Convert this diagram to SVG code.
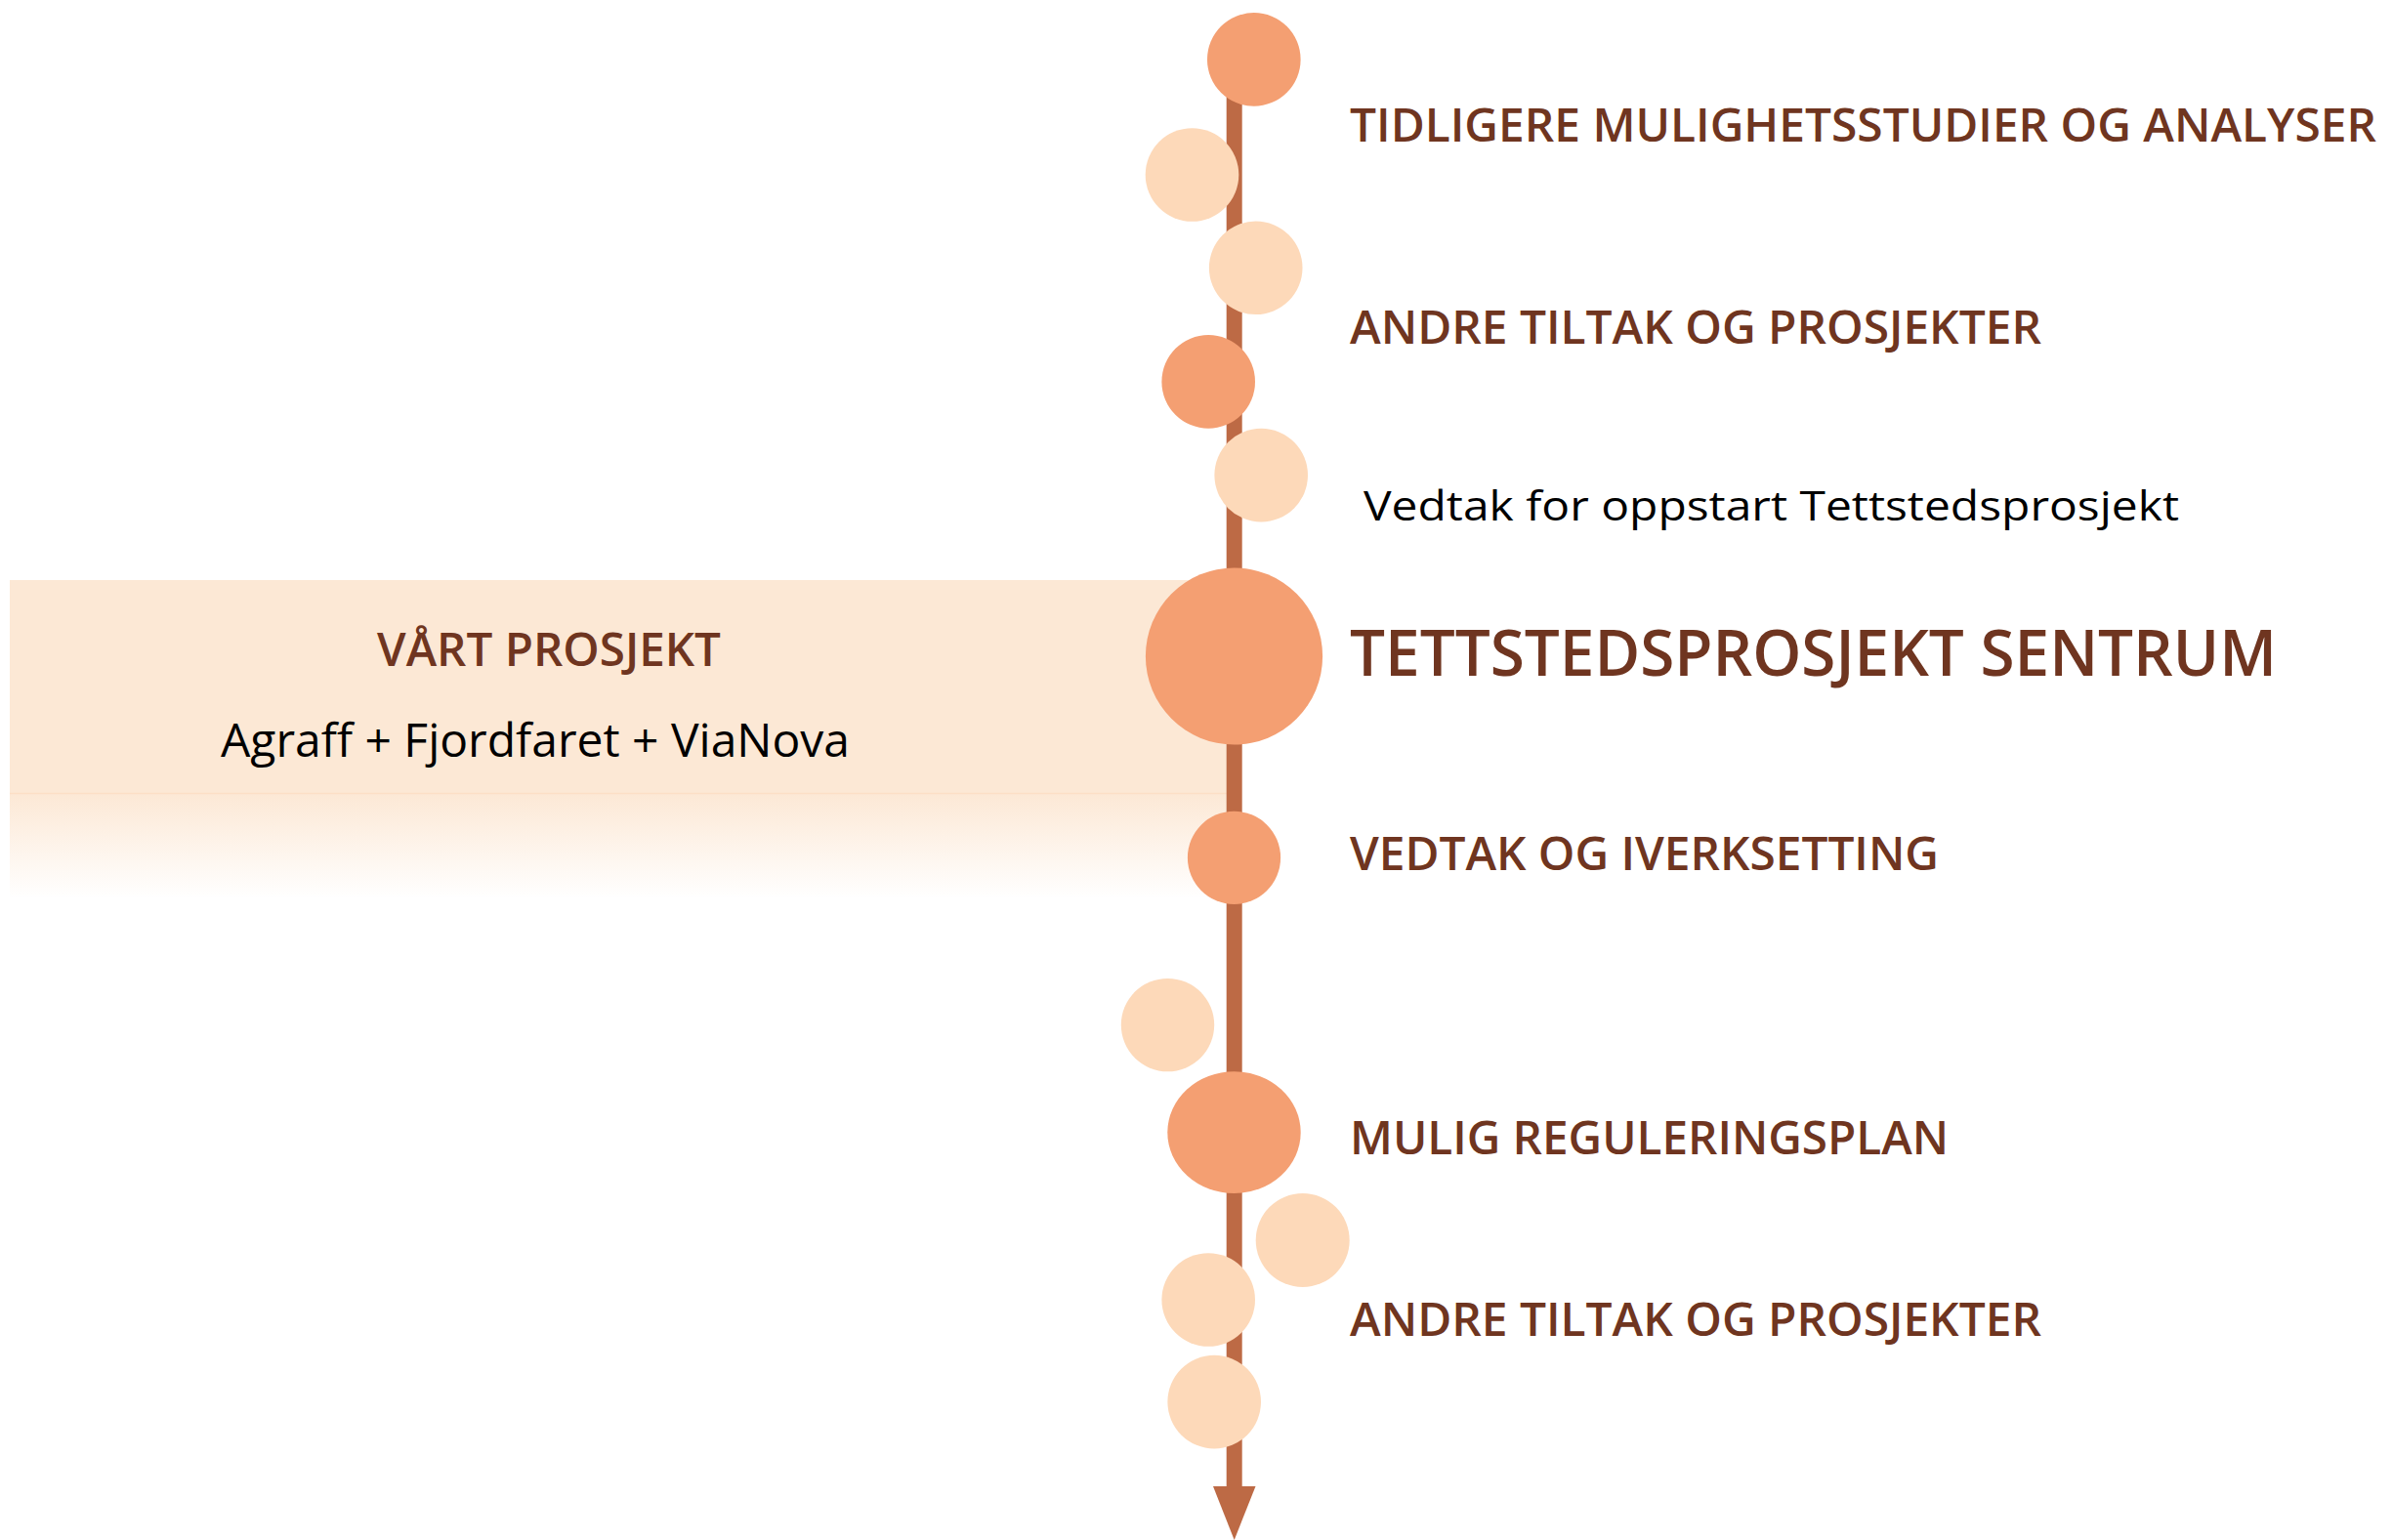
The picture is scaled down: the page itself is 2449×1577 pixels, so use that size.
<svg xmlns="http://www.w3.org/2000/svg" width="2449" height="1577" viewBox="0 0 2449 1577">
  <defs>
    <linearGradient id="fade" x1="0" y1="0" x2="0" y2="1">
      <stop offset="0" stop-color="#FCE8D5"/>
      <stop offset="1" stop-color="#FFFFFF"/>
    </linearGradient>
    <style>
      .dark { fill: #F49F72; }
      .light { fill: #FDD9B9; }
      .head { font-family: "Open Sans", "Noto Sans", "Liberation Sans", sans-serif; font-weight: 600; fill: #6F3520; font-size: 46.7px; }
      .title { font-size: 66px; }
      .body { font-family: "Open Sans", "Noto Sans", "Liberation Sans", sans-serif; font-weight: 400; fill: #000000; }
    </style>
  </defs>
  <rect width="2449" height="1577" fill="#FFFFFF"/>

  <g id="project-band">
    <rect x="10" y="594" width="1246" height="218" fill="#FCE8D5"/>
    <rect x="10" y="812" width="1246" height="108" fill="url(#fade)"/>
    <line x1="10" y1="812.5" x2="1256" y2="812.5" stroke="#FCDFC6" stroke-width="1.5"/>
    <text class="head" x="386" y="681.7" textLength="352" lengthAdjust="spacingAndGlyphs">VÅRT PROSJEKT</text>
    <text class="body" x="226" y="775" font-size="47" textLength="644" lengthAdjust="spacingAndGlyphs">Agraff + Fjordfaret + ViaNova</text>
  </g>

  <g id="connectors">
    <line x1="1263.7" y1="60" x2="1263.7" y2="1524" stroke="#BD6A45" stroke-width="16"/>
    <polygon points="1242,1522 1285.5,1522 1263.7,1577" fill="#BD6A45"/>
  </g>

  <g id="node-1"><circle class="dark" cx="1283.8" cy="60.9" r="47.8"/></g>
  <g id="node-2"><circle class="light" cx="1220.5" cy="179" r="47.8"/></g>
  <g id="node-3"><circle class="light" cx="1285.7" cy="274.3" r="47.8"/></g>
  <g id="node-4"><circle class="dark" cx="1237.2" cy="390.9" r="47.8"/></g>
  <g id="node-5"><circle class="light" cx="1291.2" cy="486.6" r="47.8"/></g>
  <g id="node-6"><circle class="dark" cx="1263.5" cy="672" r="90.6"/></g>
  <g id="node-7"><circle class="dark" cx="1263.5" cy="878.3" r="47.6"/></g>
  <g id="node-8"><circle class="light" cx="1195.5" cy="1049.6" r="47.7"/></g>
  <g id="node-9"><ellipse class="dark" cx="1263.5" cy="1159.6" rx="68.2" ry="62.4"/></g>
  <g id="node-10"><circle class="light" cx="1333.7" cy="1270" r="48"/></g>
  <g id="node-11"><circle class="light" cx="1237.2" cy="1331" r="47.8"/></g>
  <g id="node-12"><circle class="light" cx="1243.2" cy="1435.6" r="47.8"/></g>

  <g id="labels">
    <text class="head" x="1382" y="145" textLength="1051" lengthAdjust="spacingAndGlyphs">TIDLIGERE MULIGHETSSTUDIER OG ANALYSER</text>
    <text class="head" x="1382" y="351.7" textLength="708" lengthAdjust="spacingAndGlyphs">ANDRE TILTAK OG PROSJEKTER</text>
    <text class="body" x="1396" y="533.3" font-size="42.5" textLength="835" lengthAdjust="spacingAndGlyphs">Vedtak for oppstart Tettstedsprosjekt</text>
    <text class="head title" x="1382" y="691.7" textLength="949" lengthAdjust="spacingAndGlyphs">TETTSTEDSPROSJEKT SENTRUM</text>
    <text class="head" x="1382" y="890.8" textLength="603" lengthAdjust="spacingAndGlyphs">VEDTAK OG IVERKSETTING</text>
    <text class="head" x="1382" y="1181.6" textLength="613" lengthAdjust="spacingAndGlyphs">MULIG REGULERINGSPLAN</text>
    <text class="head" x="1382" y="1367.9" textLength="708" lengthAdjust="spacingAndGlyphs">ANDRE TILTAK OG PROSJEKTER</text>
  </g>
</svg>
